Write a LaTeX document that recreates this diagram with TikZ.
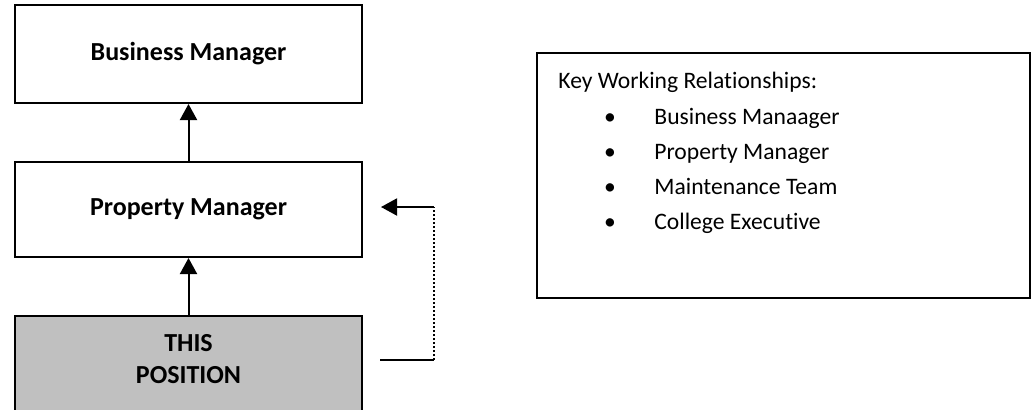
\documentclass[tikz,border=0pt]{standalone}
\usepackage{fontspec}
\setmainfont[Ligatures=NoCommon]{Carlito}
\usetikzlibrary{arrows.meta}
\definecolor{posgray}{RGB}{192,192,192}
\begin{document}
\begin{tikzpicture}[x=0.5pt,y=-0.5pt,
	rolebox/.style={draw=black, line width=1pt, minimum width=173.5pt, inner sep=0pt, font=\fontsize{13}{16}\selectfont\bfseries},
	tiparrow/.style={line width=1pt, -{Triangle[length=8pt,width=8.5pt]}},
	keytext/.style={anchor=base west, inner sep=0pt, font=\fontsize{11.8}{14}\selectfont}]
			\clip (0,0) rectangle (1032,409);
			\node[rolebox, minimum height=49pt](busmgr) at (188.5,54){Business Manager};
			\node[rolebox, minimum height=47.5pt](propmgr) at (188.5,209.5){Property Manager};
			\node[rolebox, minimum height=70pt, fill=posgray](thispos) at (188.5,386){};
			\node[align=center, inner sep=0pt, font=\fontsize{13}{16}\selectfont\bfseries](thislbl) at (188.5,359){THIS\\POSITION};
			\draw[tiparrow] (propmgr.north) -- (busmgr.south);
			\draw[tiparrow] (thispos.north) -- (propmgr.south);
			\coordinate (linkstart) at (380,360);
			\coordinate (linkbottom) at (434,360);
			\coordinate (linktop) at (434,207);
			\coordinate (linkend) at (381,207);
			\draw[line width=1pt] (linkstart) -- (linkbottom);
			\draw[line width=1pt, dash pattern=on 1pt off 1pt] (linkbottom) -- (linktop);
			\draw[tiparrow] (linktop) -- (linkend);
			\node[draw=black, line width=1pt, minimum width=246.5pt, minimum height=122.5pt, inner sep=0pt](keybox) at (783.5,175.5){};
			\node[keytext](keyhead) at (558,88){Key Working Relationships:};
			\foreach \who [count=\i] in {Business Manaager, Property Manager, Maintenance Team, College Executive}{
				\node[keytext, anchor=base](dot\i) at (610,{89+35*\i}){\textbullet};
				\node[keytext](item\i) at (654,{89+35*\i}){\who};
			}
\end{tikzpicture}
\end{document}
